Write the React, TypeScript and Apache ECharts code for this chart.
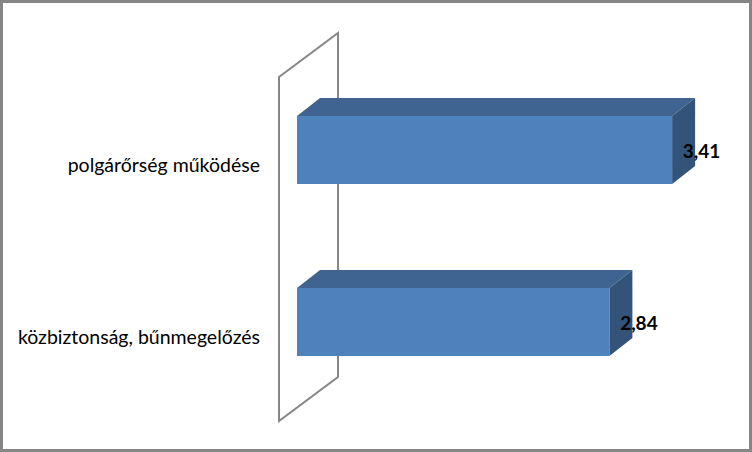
import React, { useEffect, useRef } from "react";
import * as echarts from "echarts";

const categories = ["polgárőrség működése", "közbiztonság, bűnmegelőzés"];
const values = [3.41, 2.84];

const FRONT = "#4F81BD";
const TOP = "#3F6491";
const SIDE = "#335379";
const DX = 23;
const DY = 18;

export default function App() {
  const ref = useRef<HTMLDivElement>(null);
  useEffect(() => {
    const chart = echarts.init(ref.current!, null, { renderer: "svg" });
    chart.setOption({
      animation: false,
      backgroundColor: "#ffffff",
      grid: { left: 297, top: 64, width: 440, height: 344, containLabel: false },
      xAxis: { type: "value", min: 0, max: 4, show: false },
      yAxis: {
        type: "category",
        inverse: true,
        data: categories,
        axisLine: { show: false },
        axisTick: { show: false },
        splitLine: { show: false },
        axisLabel: {
          margin: 37,
          color: "#000000",
          fontFamily: "Lato",
          fontSize: 19.5,
          align: "right",
          verticalAlign: "top",
          lineHeight: 29,
        },
      },
      graphic: [
        {
          type: "rect",
          z: 100,
          shape: { x: 1.5, y: 1.5, width: 749, height: 449 },
          style: { fill: "none", stroke: "#868686", lineWidth: 3 },
        },
        {
          type: "polygon",
          z: 0,
          shape: { points: [[279, 77], [338, 33], [338, 377], [279, 421]] },
          style: { fill: "none", stroke: "#868686", lineWidth: 2 },
        },
      ],
      series: [
        {
          type: "custom",
          z: 5,
          coordinateSystem: "cartesian2d",
          data: values.map((v, i) => [v, i]),
          clip: false,
          renderItem: (_p: any, api: any) => {
            const v = api.value(0);
            const idx = api.value(1);
            const end = api.coord([v, idx]);
            const start = api.coord([0, idx]);
            const band = api.size([0, 1])[1];
            const h = band * 0.395;
            const x0 = start[0];
            const x1 = end[0];
            const y0 = end[1] - h / 2;
            const y1 = end[1] + h / 2;
            return {
              type: "group",
              children: [
                {
                  type: "polygon",
                  shape: { points: [[x0, y0], [x0 + DX, y0 - DY], [x1 + DX, y0 - DY], [x1, y0]] },
                  style: { fill: TOP },
                },
                {
                  type: "polygon",
                  shape: { points: [[x1, y0], [x1 + DX, y0 - DY], [x1 + DX, y1 - DY], [x1, y1]] },
                  style: { fill: SIDE },
                },
                {
                  type: "rect",
                  shape: { x: x0, y: y0, width: x1 - x0, height: y1 - y0 },
                  style: { fill: FRONT },
                },
                {
                  type: "text",
                  z2: 10,
                  style: {
                    x: x1 + 29.5,
                    y: end[1],
                    text: v.toFixed(2).replace(".", ","),
                    fill: "#000000",
                    fontFamily: "Lato",
                    fontWeight: "bold",
                    fontSize: 19,
                    align: "center",
                    verticalAlign: "middle",
                  },
                },
              ],
            };
          },
        },
      ],
    });
    return () => chart.dispose();
  }, []);
  return (
    <div
      ref={ref}
      style={{ position: "absolute", left: 0, top: 0, width: 752, height: 452 }}
    />
  );
}
